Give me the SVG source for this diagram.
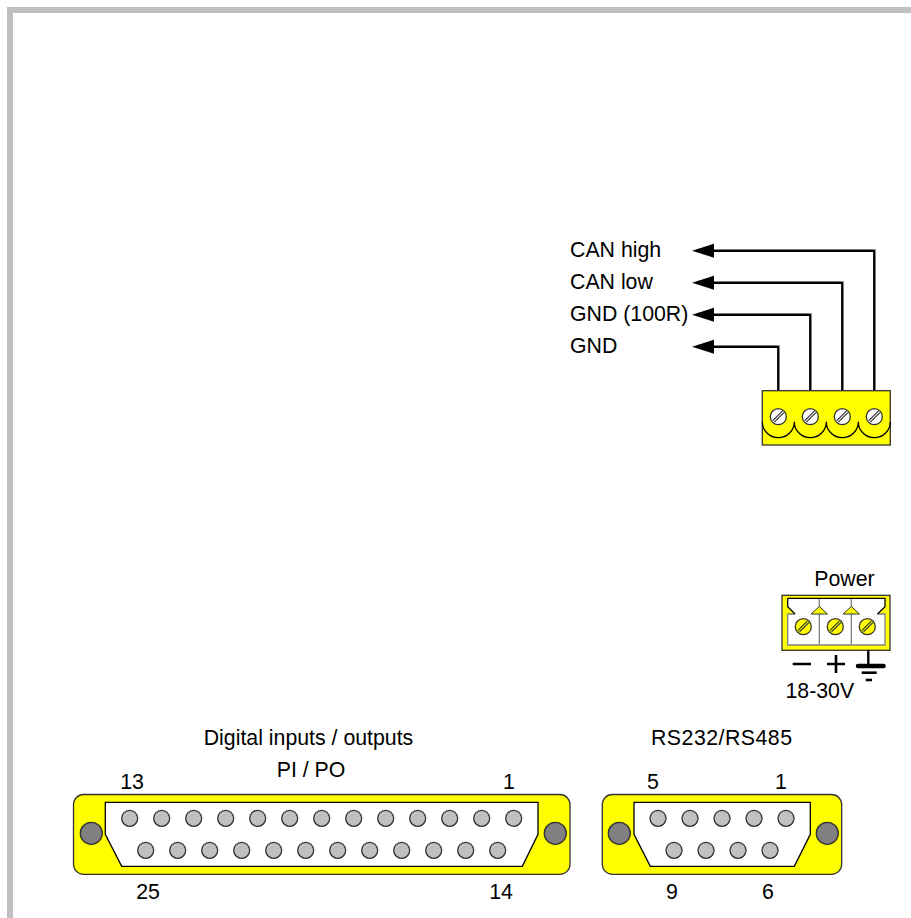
<svg xmlns="http://www.w3.org/2000/svg" width="911" height="918" viewBox="0 0 911 918">
<style>
text{font-family:"Liberation Sans",Arial,sans-serif;font-size:21.3px;fill:#000}
.m{text-anchor:middle}
.body{fill:#ff0;stroke:#333;stroke-width:1.3}
.win{fill:#fff;stroke:#000;stroke-width:1.3}
.pin{fill:#c0c0c0;stroke:#333;stroke-width:1.3}
.scr{fill:#808080;stroke:#333;stroke-width:1.3}
.wire{fill:none;stroke:#000;stroke-width:2.4}
.line{fill:none;stroke:#000;stroke-width:1.3}
.gr{fill:none;stroke:#808080;stroke-width:1.3}
.th{fill:none;stroke:#000;stroke-width:2.6}
</style>
<defs>
<circle id="p" class="pin" r="8"/>
<g id="ws"><circle r="8" fill="#fff" stroke="#333" stroke-width="1.3"/><path d="M-5.5 4L4 -5.5M-4 5.5L5.5 -4" stroke="#333" stroke-width="1.2" fill="none"/></g>
<g id="ys"><circle r="8" fill="#ff0" stroke="#333" stroke-width="1.3"/><path d="M-5.5 4L4 -5.5M-4 5.5L5.5 -4" stroke="#333" stroke-width="1.2" fill="none"/></g>
</defs>
<path d="M7 918V7H911V13H13V918Z" fill="#c0c0c0"/>

<g id="connectors">
<path class="wire" d="M874.3 391V250.7H714"/><path d="M692 250.7L714 243.7V257.7Z"/>
<path class="wire" d="M842.3 391V282.7H714"/><path d="M692 282.7L714 275.7V289.7Z"/>
<path class="wire" d="M810.3 391V314.7H714"/><path d="M692 314.7L714 307.7V321.7Z"/>
<path class="wire" d="M778.3 391V346.7H714"/><path d="M692 346.7L714 339.7V353.7Z"/>
</g>

<g id="can-labels">
<text x="570" y="257">CAN high</text>
<text x="570" y="289">CAN low</text>
<text x="570" y="321">GND (100R)</text>
<text x="570" y="353">GND</text>
</g>

<g id="can-connector">
<rect class="body" x="762.3" y="390.7" width="128" height="54.3"/>
<path class="line" d="M762.3 421.7a16 16 0 0 0 32 0a16 16 0 0 0 32 0a16 16 0 0 0 32 0a16 16 0 0 0 32 0"/>
<use href="#ws" x="778.3" y="416.7"/><use href="#ws" x="810.3" y="416.7"/><use href="#ws" x="842.3" y="416.7"/><use href="#ws" x="874.3" y="416.7"/>
</g>

<g id="power-connector">
<text class="m" x="844.5" y="586">Power</text>
<rect class="body" x="782" y="595.3" width="108" height="55"/>
<path fill="#fff" stroke="none" d="M787.7 598.3H885V606.7L877.5 614H885V645H787.7V614H795L787.7 606.7Z"/>
<path class="gr" d="M795 614H787.7V645H885V614H877.5M819.3 598.3V645M851.3 598.3V645"/>
<path class="line" d="M787.7 598.3H885V606.7L877.5 614M787.7 598.3V606.7L795 614"/>
<path d="M819.3 606.5L811 614H827.5Z" fill="#ff0" stroke="#333" stroke-width="1"/>
<path d="M851.3 606.5L843 614H859.5Z" fill="#ff0" stroke="#333" stroke-width="1"/>
<use href="#ys" x="803.3" y="626.7"/><use href="#ys" x="835.3" y="626.7"/><use href="#ys" x="867.3" y="626.7"/>
<path class="th" d="M792.7 664H811M827 664H845M836 655V673"/>
<path class="wire" d="M868.3 650V666"/>
<path stroke="#000" stroke-width="4.5" stroke-linecap="round" d="M858 666H883.5"/>
<path class="th" d="M861.7 672.7H876.7"/>
<path class="th" d="M865.7 680H872"/>
<text x="785.5" y="698">18-30V</text>
</g>

<g id="db25">
<text class="m" x="308.5" y="745">Digital inputs / outputs</text>
<text class="m" x="311" y="777">PI / PO</text>
<text class="m" x="132" y="789">13</text>
<text x="503" y="789">1</text>
<text class="m" x="148" y="899">25</text>
<text class="m" x="501" y="899">14</text>
<rect class="body" x="73.5" y="794.5" width="496.5" height="79.8" rx="10"/>
<path class="win" d="M105.3 802.3H538V834.3L522.3 866.3H121.7L105.3 834.3Z"/>
<circle class="scr" cx="91.3" cy="833.3" r="11"/><circle class="scr" cx="555.3" cy="833.3" r="11"/>
<use href="#p" x="129.7" y="818.3"/><use href="#p" x="161.7" y="818.3"/><use href="#p" x="193.7" y="818.3"/><use href="#p" x="225.7" y="818.3"/><use href="#p" x="257.7" y="818.3"/><use href="#p" x="289.7" y="818.3"/><use href="#p" x="321.7" y="818.3"/><use href="#p" x="353.7" y="818.3"/><use href="#p" x="385.7" y="818.3"/><use href="#p" x="417.7" y="818.3"/><use href="#p" x="449.7" y="818.3"/><use href="#p" x="481.7" y="818.3"/><use href="#p" x="513.7" y="818.3"/>
<use href="#p" x="145.7" y="850.3"/><use href="#p" x="177.7" y="850.3"/><use href="#p" x="209.7" y="850.3"/><use href="#p" x="241.7" y="850.3"/><use href="#p" x="273.7" y="850.3"/><use href="#p" x="305.7" y="850.3"/><use href="#p" x="337.7" y="850.3"/><use href="#p" x="369.7" y="850.3"/><use href="#p" x="401.7" y="850.3"/><use href="#p" x="433.7" y="850.3"/><use href="#p" x="465.7" y="850.3"/><use href="#p" x="497.7" y="850.3"/>
</g>

<g id="db9">
<text class="m" x="721.5" y="745" textLength="141" lengthAdjust="spacing">RS232/RS485</text>
<text class="m" x="653" y="789">5</text>
<text class="m" x="781" y="789">1</text>
<text class="m" x="672" y="899">9</text>
<text class="m" x="768" y="899">6</text>
<rect class="body" x="602.3" y="794.5" width="239.4" height="79.8" rx="10"/>
<path class="win" d="M634 802.3H810.3V834.3L794.3 866.3H650.3L634 834.3Z"/>
<circle class="scr" cx="619.3" cy="833.3" r="11"/><circle class="scr" cx="827.3" cy="833.3" r="11"/>
<use href="#p" x="658" y="818.3"/><use href="#p" x="690" y="818.3"/><use href="#p" x="722" y="818.3"/><use href="#p" x="754" y="818.3"/><use href="#p" x="786" y="818.3"/>
<use href="#p" x="674" y="850.3"/><use href="#p" x="706" y="850.3"/><use href="#p" x="738" y="850.3"/><use href="#p" x="770" y="850.3"/>
</g>
</svg>
